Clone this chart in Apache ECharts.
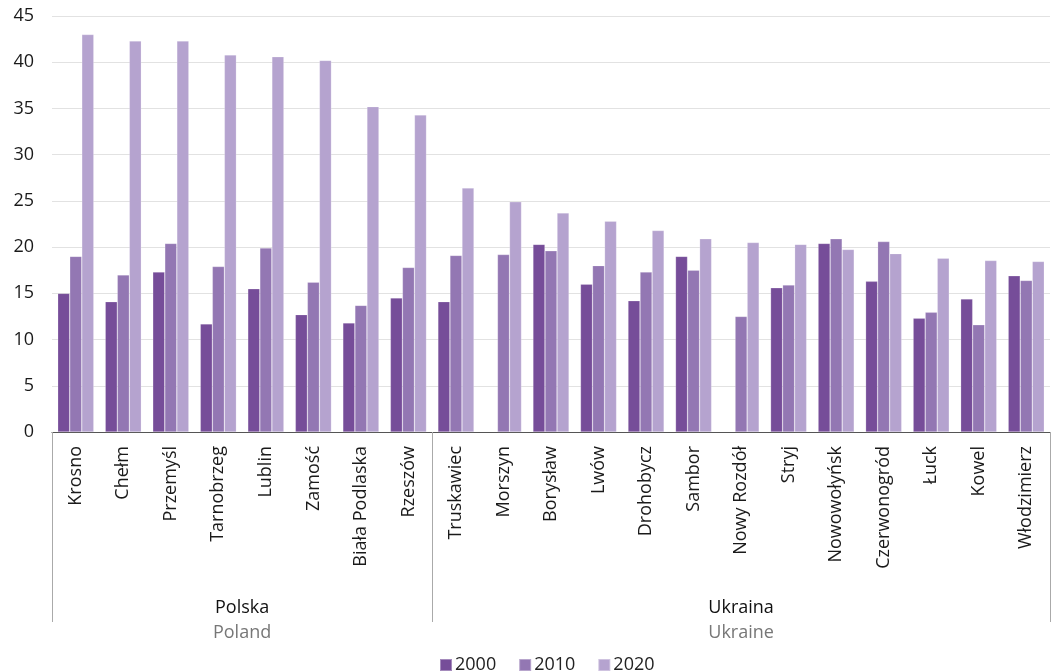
<!DOCTYPE html>
<html>
<head>
<meta charset="utf-8">
<script src="https://cdn.jsdelivr.net/npm/echarts@6/dist/echarts.min.js"></script>
<style>html,body{margin:0;padding:0;background:#fff}#c{width:1054px;height:672px}</style>
</head>
<body>
<div id="c"></div>
<script>
const categories = ["Krosno","Chełm","Przemyśl","Tarnobrzeg","Lublin","Zamość","Biała Podlaska","Rzeszów",
  "Truskawiec","Morszyn","Borysław","Lwów","Drohobycz","Sambor","Nowy Rozdół","Stryj","Nowowołyńsk","Czerwonogród","Łuck","Kowel","Włodzimierz"];
const groups = [
  {name:"Polska", sub:"Poland", start:0, count:8},
  {name:"Ukraina", sub:"Ukraine", start:8, count:13}
];
const seriesNames = ["2000","2010","2020"];
const v2000 = [15.0,14.1,17.3,11.7,15.5,12.7,11.8,14.5, 14.1,null,20.3,16.0,14.2,19.0,null,15.6,20.4,16.3,12.3,14.4,16.9];
const v2010 = [19.0,17.0,20.4,17.9,19.9,16.2,13.7,17.8, 19.1,19.2,19.6,18.0,17.3,17.5,12.5,15.9,20.9,20.6,12.95,11.6,16.4];
const v2020 = [43.0,42.3,42.3,40.8,40.6,40.2,35.2,34.3, 26.4,24.9,23.7,22.8,21.8,20.9,20.5,20.3,19.75,19.3,18.8,18.55,18.45];
const colors = ["#764d99","#9377b3","#b5a3cf"];
const yTicks = {min:0, max:45, interval:5};

const FONT = "Open Sans";
const chart = echarts.init(document.getElementById('c'));
const option = {
  animation:false,
  textStyle:{fontFamily:FONT},
  color:colors,
  grid:{left:52, right:4, top:16, bottom:240},
  legend:{
    data:seriesNames, top:651, left:434,
    itemWidth:12, itemHeight:12, itemGap:22, icon:'rect',
    textStyle:{fontFamily:FONT, fontSize:18, color:'#222', padding:[0,0,0,-2]}
  },
  xAxis:{
    type:'category', data:categories,
    axisLine:{lineStyle:{color:'#555', width:1.2}},
    axisTick:{show:true, length:190, interval:function(i){return groups.some(g=>g.start===i);}, lineStyle:{color:'#aaa'}},
    axisLabel:{rotate:90, interval:0, margin:14, fontFamily:FONT, fontSize:18, color:'#1a1a1a'}
  },
  yAxis:{
    type:'value', min:yTicks.min, max:yTicks.max, interval:yTicks.interval,
    axisLine:{show:false}, axisTick:{show:false},
    splitLine:{lineStyle:{color:'#e2e2e2'}},
    axisLabel:{fontFamily:FONT, fontSize:18, color:'#1a1a1a', margin:18}
  },
  series:[v2000,v2010,v2020].map((d,i)=>({
    name:seriesNames[i], type:'bar', data:d, barGap:'0%', barCategoryGap:'24%',
    itemStyle:{color:colors[i], borderColor:'rgba(255,255,255,0.35)', borderWidth:0.6}
  }))
};
chart.setOption(option);

const y0 = chart.convertToPixel({yAxisIndex:0}, 0);
const gr = [];
groups.forEach(g=>{
  const a = chart.convertToPixel({xAxisIndex:0}, categories[g.start]);
  const b = chart.convertToPixel({xAxisIndex:0}, categories[g.start+g.count-1]);
  const cx = (a+b)/2;
  gr.push({type:'text', x:cx, y:y0+176, style:{text:g.name, fontFamily:FONT, fontSize:18, fill:'#111', align:'center', verticalAlign:'middle'}});
  gr.push({type:'text', x:cx, y:y0+201, style:{text:g.sub, fontFamily:FONT, fontSize:18, fill:'#777', align:'center', verticalAlign:'middle'}});
});
chart.setOption({graphic:gr});
</script>
</body>
</html>
